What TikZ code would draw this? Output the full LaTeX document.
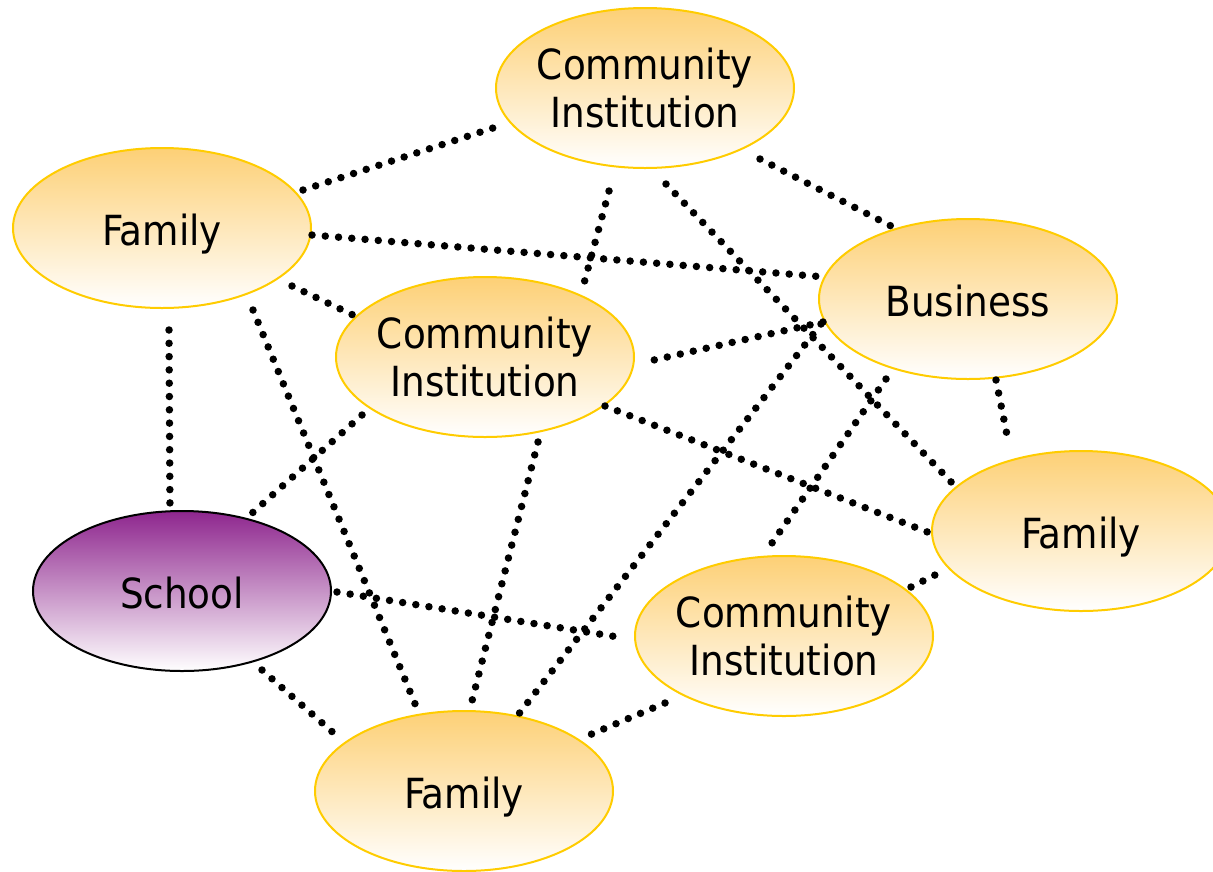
\documentclass[tikz,border=0pt]{standalone}
\usepackage{fontspec}
\setmainfont{DejaVu Sans Condensed}
\usetikzlibrary{shapes.geometric,calc}
\definecolor{orangetop}{RGB}{253,208,118}
\definecolor{goldline}{RGB}{255,204,0}
\definecolor{purpletop}{RGB}{142,38,142}
\begin{document}
\begin{tikzpicture}[x=1pt,y=-1pt,
  blob/.style={ellipse, minimum width=298pt, minimum height=160pt,
    inner xsep=-20pt, inner ysep=0pt,
    draw=goldline, line width=2pt, top color=orangetop, bottom color=white,
    font=\fontsize{41.5}{48.5}\selectfont, align=center},
  oneline/.style={text height=35pt, text depth=0pt},
  schoolblob/.style={blob, draw=black, top color=purpletop},
  link/.style={line width=7.5pt, line cap=round, dash pattern=on 0pt off 13.3pt}]
\useasboundingbox (0,0) rectangle (1213,871);
\fill[white] (0,0) rectangle (1213,871);

\node[blob] (ciT) at (645,88) {Community\\Institution};
\node[blob, oneline] (famTL) at (162,228) {Family};
\node[blob] (ciM) at (485,357) {Community\\Institution};
\node[blob, oneline] (bus) at (968,299) {Business};
\node[blob, oneline] (famR) at (1081,531) {Family};
\node[blob] (ciB) at (784,636) {Community\\Institution};
\node[schoolblob, oneline] (school) at (182,591) {School};
\node[blob, oneline] (famB) at (464,791) {Family};

\draw[link] ($(famTL)+(141,-38)$) -- ($(ciT)+(-152,40)$);
\draw[link] ($(famTL)+(150,7)$) -- ($(bus)+(-143,-22)$);
\draw[link] ($(famTL)+(130,58)$) -- ($(ciM)+(-132,-42)$);
\draw[link] ($(famTL)+(7,102)$) -- ($(school)+(-12,-77)$);
\draw[link] ($(famTL)+(91,82)$) -- ($(famB)+(-46,-80)$);
\draw[link] ($(ciT)+(-36,103)$) -- ($(ciM)+(98,-70)$);
\draw[link] ($(ciT)+(21,96)$) -- ($(famR)+(-127,-46)$);
\draw[link] ($(ciT)+(115,71)$) -- ($(bus)+(-75,-72)$);
\draw[link] ($(bus)+(-145,23)$) -- ($(ciM)+(160,5)$);
\draw[link] ($(bus)+(-147,25)$) -- ($(famB)+(54,-76)$);
\draw[link] ($(bus)+(-82,80)$) -- ($(ciB)+(-12,-93)$);
\draw[link] ($(bus)+(28,81)$) -- ($(famR)+(-72,-86)$);
\draw[link] ($(ciM)+(120,49)$) -- ($(famR)+(-151,2)$);
\draw[link] ($(ciM)+(-123,58)$) -- ($(school)+(68,-76)$);
\draw[link] ($(ciM)+(53,85)$) -- ($(famB)+(8,-90)$);
\draw[link] ($(school)+(155,1)$) -- ($(ciB)+(-166,1)$);
\draw[link] ($(school)+(80,79)$) -- ($(famB)+(-127,-55)$);
\draw[link] ($(ciB)+(-119,67)$) -- ($(famB)+(123,-55)$);
\draw[link] ($(ciB)+(127,-49)$) -- ($(famR)+(-140,41)$);
\end{tikzpicture}
\end{document}
